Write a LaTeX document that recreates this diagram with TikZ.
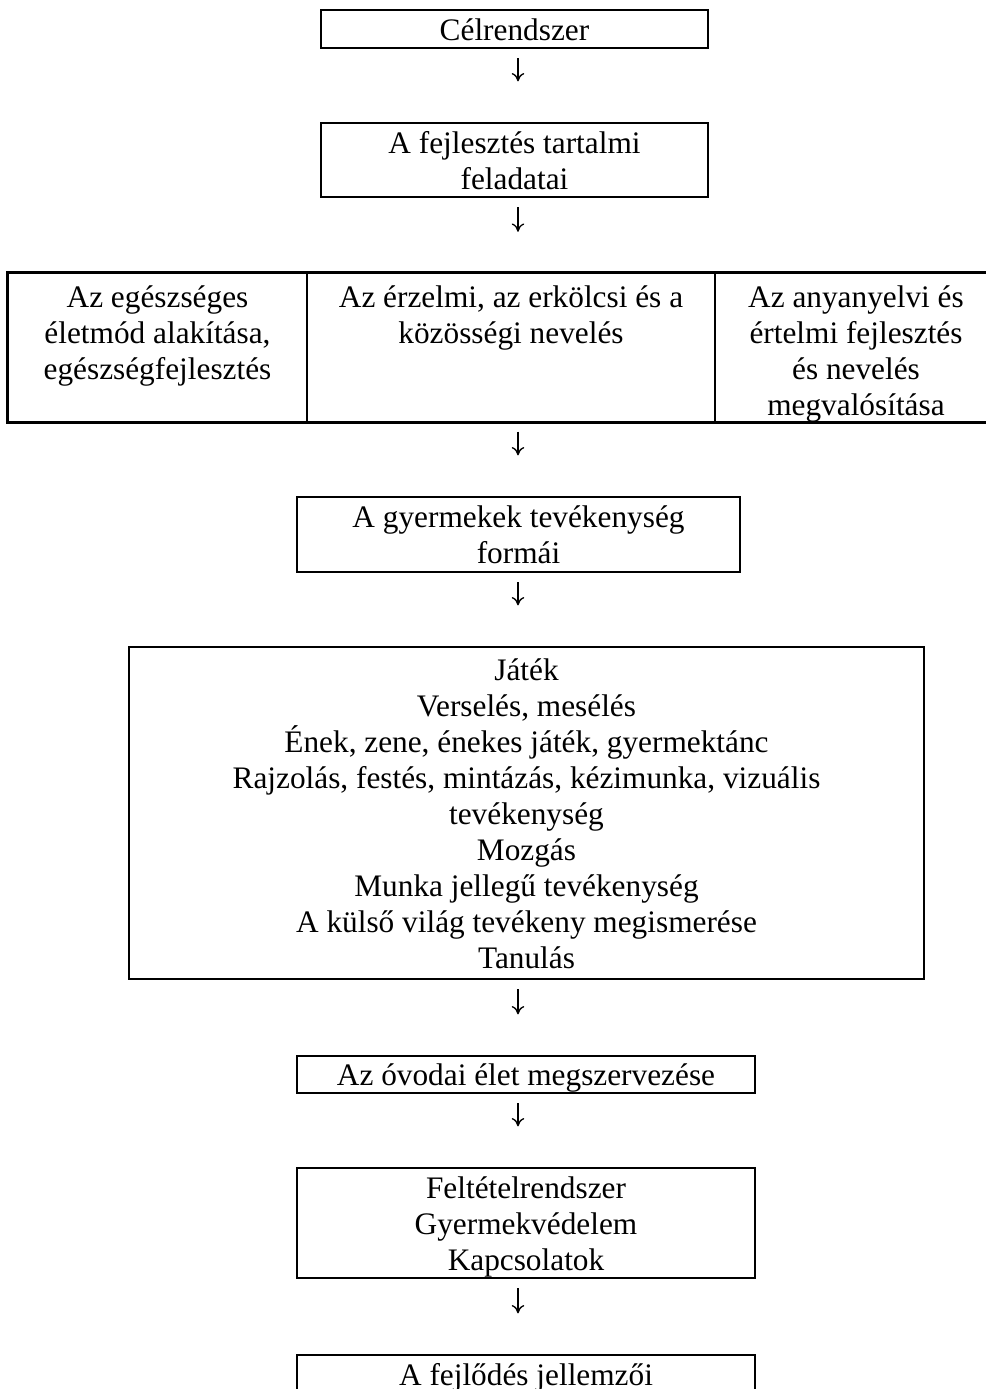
\documentclass[tikz,border=0pt]{standalone}
\usepackage{fontspec}
\setmainfont{Liberation Serif}
\usetikzlibrary{arrows.meta}

\newcommand{\pxu}{0.3833pt}
\newcommand{\tstr}{\rule{0pt}{11.16pt}}
\newcommand{\bstr}{\rule[-2.64pt]{0pt}{2.64pt}}

\tikzset{
  box/.style={draw, line width=0.9pt, inner sep=0pt, align=center,
    font=\fontsize{12}{13.8}\selectfont},
  cell/.style={draw, line width=0.6pt, inner sep=0pt},
  txt/.style={inner sep=0pt, align=center, font=\fontsize{12}{13.8}\selectfont},
  arr/.style={-{To[length=3.2pt,width=4.8pt]}, line width=0.5pt,
    shorten <=3.4pt, shorten >=15.5pt}
}

\begin{document}
\begin{tikzpicture}[x=0.3833pt, y=-0.3833pt]

    \useasboundingbox (0,0) rectangle (986,1389);

    \node[box, minimum width=387*\pxu, minimum height=38*\pxu] (cel) at (514.5, 29) {\tstr C\'elrendszer\bstr};
    \node[box, minimum width=387*\pxu, minimum height=74*\pxu] (tart) at (514.5, 160) {\tstr A fejleszt\'es tartalmi\\ feladatai\bstr};

    \node[cell, minimum width=299*\pxu, minimum height=149*\pxu] (c1) at (157.5, 347.5) {};
    \node[cell, minimum width=408*\pxu, minimum height=149*\pxu] (c2) at (511, 347.5) {};
    \node[cell, minimum width=282*\pxu, minimum height=149*\pxu] (c3) at (856, 347.5) {};
    \draw[line width=0.9pt] (c1.north west) rectangle (c3.south east);
    \node[txt, anchor=north] (t1) at ([yshift=-3.5pt]c1.north) {\strut Az eg\'eszs\'eges\\ \'eletm\'od alak\'it\'asa,\\ eg\'eszs\'egfejleszt\'es\strut};
    \node[txt, anchor=north] (t2) at ([yshift=-3.5pt]c2.north) {\strut Az \'erzelmi, az erk\"olcsi \'es a\\ k\"oz\"oss\'egi nevel\'es\strut};
    \node[txt, anchor=north] (t3) at ([yshift=-3.5pt]c3.north) {\strut Az anyanyelvi \'es\\ \'ertelmi fejleszt\'es\\ \'es nevel\'es\\ megval\'os\'it\'asa\strut};

    \node[box, minimum width=443*\pxu, minimum height=75*\pxu] (form) at (518.5, 534.5) {\tstr A gyermekek tev\'ekenys\'eg\\ form\'ai\bstr};
    \node[box, minimum width=795*\pxu, minimum height=332*\pxu] (tev) at (526.5, 813) {\tstr J\'at\'ek\\ Versel\'es, mes\'el\'es\\ \'Enek, zene, \'enekes j\'at\'ek, gyermekt\'anc\\ Rajzol\'as, fest\'es, mint\'az\'as, k\'ezimunka, vizu\'alis\\ tev\'ekenys\'eg\\ Mozg\'as\\ Munka jelleg\H{u} tev\'ekenys\'eg\\ A k\"uls\H{o} vil\'ag tev\'ekeny megismer\'ese\\ Tanul\'as\bstr};
    \node[box, minimum width=458*\pxu, minimum height=37*\pxu] (ovoda) at (526, 1074.5) {\tstr Az \'ovodai \'elet megszervez\'ese\bstr};
    \node[box, minimum width=458*\pxu, minimum height=110*\pxu] (felt) at (526, 1223) {\tstr Felt\'etelrendszer\\ Gyermekv\'edelem\\ Kapcsolatok\bstr};
    \node[box, minimum width=458*\pxu, minimum height=38*\pxu] (fejl) at (526, 1374) {\tstr A fejl\H{o}d\'es jellemz\H{o}i\bstr};

    \coordinate (ax) at (518, 0);
    \draw[arr] (cel.south -| ax) -- (tart.north -| ax);
    \draw[arr] (tart.south -| ax) -- (c2.north -| ax);
    \draw[arr] (c2.south -| ax) -- (form.north -| ax);
    \draw[arr] (form.south -| ax) -- (tev.north -| ax);
    \draw[arr] (tev.south -| ax) -- (ovoda.north -| ax);
    \draw[arr] (ovoda.south -| ax) -- (felt.north -| ax);
    \draw[arr] (felt.south -| ax) -- (fejl.north -| ax);

  \end{tikzpicture}
\end{document}
